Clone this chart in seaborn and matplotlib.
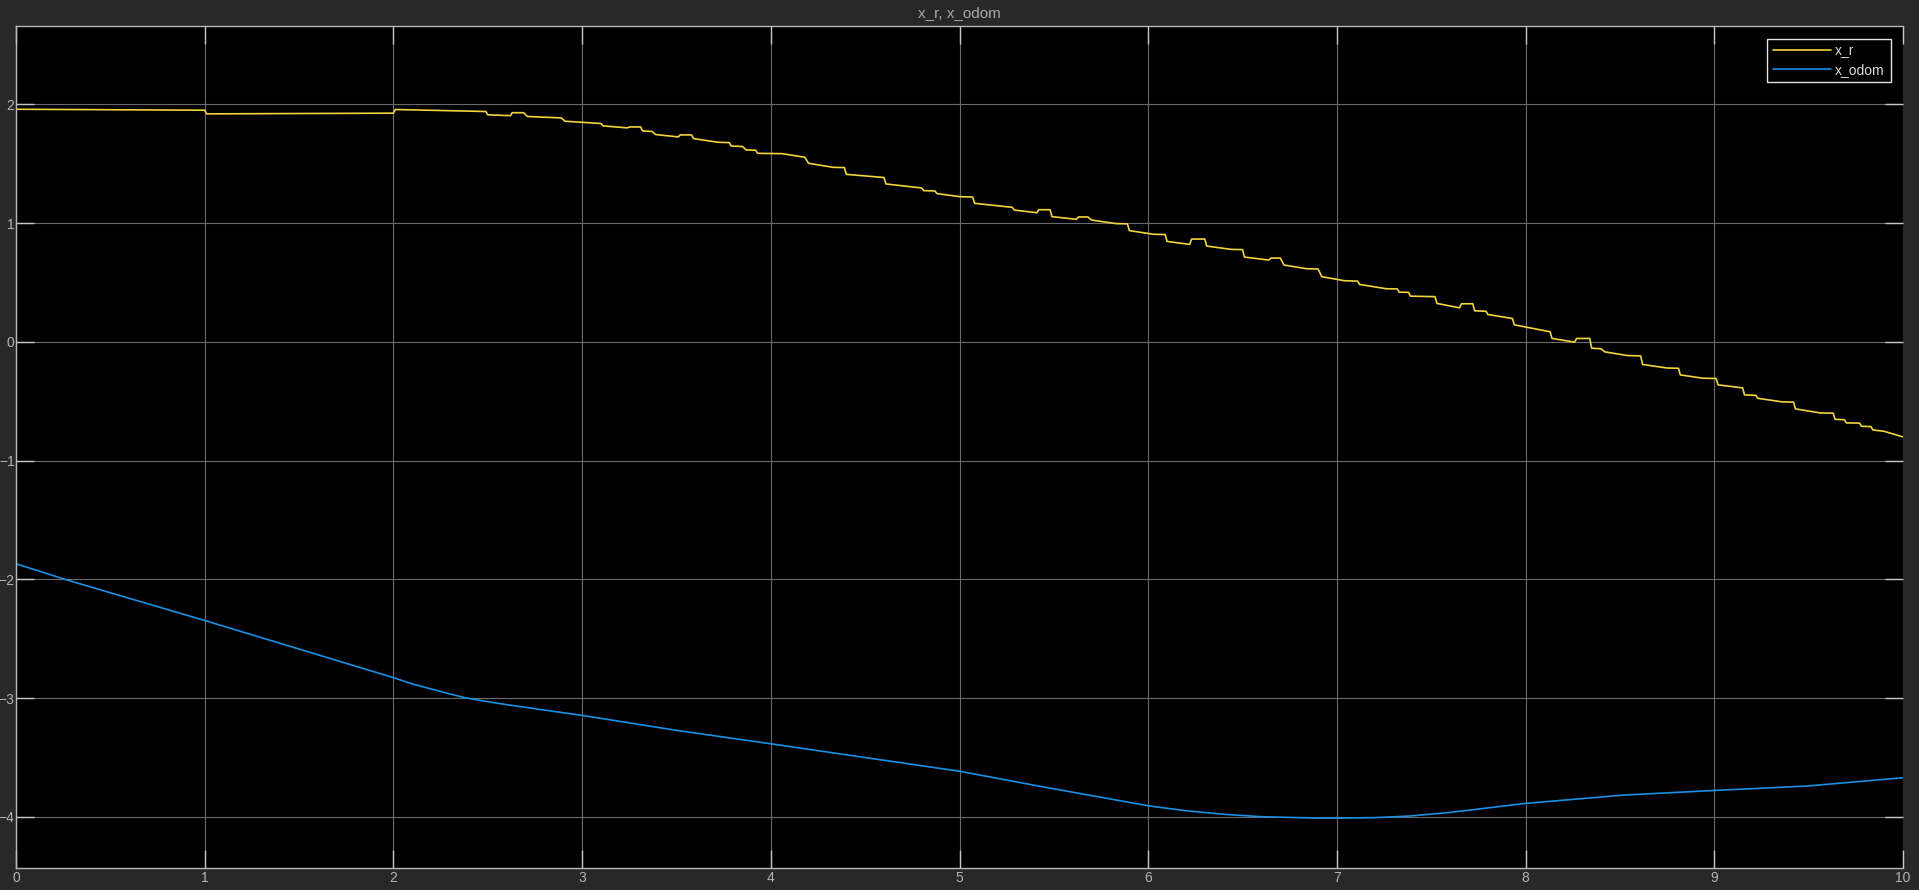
import matplotlib
matplotlib.use("Agg")

import pandas as pd
import matplotlib.pyplot as plt
import seaborn as sns

# x_r (staircase, each step has a start and end point)
t_r = [0.00, 1.00, 1.01, 2.00, 2.01, 2.36, 2.49, 2.50, 2.62, 2.63, 2.69, 2.71,
       2.89, 2.91, 3.10, 3.11, 3.24, 3.25, 3.31, 3.32, 3.37, 3.39, 3.51, 3.52,
       3.58, 3.59, 3.72, 3.78, 3.79, 3.85, 3.87, 3.92, 3.93, 4.06, 4.18, 4.20,
       4.33, 4.39, 4.40, 4.60, 4.61, 4.80, 4.81, 4.87, 4.88, 5.00, 5.07, 5.08,
       5.28, 5.29, 5.41, 5.42, 5.48, 5.49, 5.62, 5.63, 5.68, 5.70, 5.83, 5.89,
       5.90, 6.03, 6.09, 6.10, 6.22, 6.23, 6.30, 6.31, 6.44, 6.50, 6.51, 6.64,
       6.65, 6.70, 6.72, 6.84, 6.90, 6.92, 7.04, 7.11, 7.12, 7.26, 7.32, 7.33,
       7.38, 7.39, 7.52, 7.53, 7.65, 7.66, 7.72, 7.73, 7.79, 7.80, 7.93, 7.94,
       8.13, 8.14, 8.26, 8.27, 8.34, 8.35, 8.40, 8.42, 8.54, 8.61, 8.62, 8.75,
       8.81, 8.82, 8.94, 9.01, 9.02, 9.15, 9.16, 9.22, 9.23, 9.36, 9.42, 9.43,
       9.56, 9.63, 9.64, 9.69, 9.70, 9.77, 9.78, 9.83, 9.84, 9.90, 10.00]
x_r = [1.959, 1.951, 1.920, 1.926, 1.957, 1.945, 1.940, 1.912, 1.905, 1.930, 1.930, 1.898,
       1.886, 1.858, 1.839, 1.819, 1.802, 1.810, 1.810, 1.777, 1.772, 1.746, 1.726, 1.743,
       1.743, 1.712, 1.681, 1.678, 1.650, 1.645, 1.616, 1.614, 1.588, 1.585, 1.555, 1.504,
       1.470, 1.468, 1.411, 1.384, 1.330, 1.296, 1.274, 1.271, 1.249, 1.223, 1.220, 1.167,
       1.133, 1.110, 1.088, 1.113, 1.113, 1.055, 1.032, 1.052, 1.052, 1.026, 0.996, 0.994,
       0.937, 0.906, 0.904, 0.846, 0.821, 0.866, 0.866, 0.807, 0.779, 0.777, 0.714, 0.689,
       0.706, 0.706, 0.647, 0.616, 0.614, 0.549, 0.515, 0.512, 0.484, 0.448, 0.446, 0.419,
       0.417, 0.385, 0.381, 0.324, 0.287, 0.321, 0.321, 0.262, 0.258, 0.231, 0.197, 0.144,
       0.085, 0.029, -0.002, 0.029, 0.029, -0.053, -0.058, -0.084, -0.115, -0.118, -0.190, -0.220,
       -0.222, -0.278, -0.306, -0.308, -0.362, -0.387, -0.446, -0.450, -0.475, -0.505, -0.507, -0.564,
       -0.598, -0.600, -0.652, -0.655, -0.682, -0.684, -0.711, -0.713, -0.741, -0.753, -0.800]

# x_odom: smooth trace
t_odom = [0.0, 0.26, 1.0, 2.0, 2.1, 2.22, 2.3, 2.38, 2.5, 2.61, 3.0, 3.5, 4.0, 4.47,
          5.0, 5.44, 6.0, 6.2, 6.41, 6.6, 6.9, 7.0, 7.2, 7.38, 7.6, 8.0, 8.52, 9.0,
          9.49, 10.0]
x_odom = [-1.868, -2.0, -2.346, -2.827, -2.880, -2.931, -2.965, -2.996, -3.030, -3.057,
          -3.145, -3.271, -3.384, -3.493, -3.615, -3.746, -3.906, -3.948, -3.979, -3.998,
          -4.010, -4.010, -4.006, -3.993, -3.962, -3.886, -3.816, -3.777, -3.740, -3.670]

df_r = pd.DataFrame({"t": t_r, "value": x_r})
df_odom = pd.DataFrame({"t": t_odom, "value": x_odom})

sns.set_style("dark")
plt.rcParams["font.family"] = ["Liberation Sans", "DejaVu Sans"]

BG = "#282828"
fig = plt.figure(figsize=(19.19, 8.90), dpi=100, facecolor=BG)
ax = fig.add_axes([16 / 1919, 22 / 890, 1887 / 1919, 842 / 890])
ax.set_facecolor("black")

sns.lineplot(data=df_r, x="t", y="value", ax=ax, color="#f2d43c",
             linewidth=1.2, label="x_r", estimator=None, sort=False)
sns.lineplot(data=df_odom, x="t", y="value", ax=ax, color="#1a8fe6",
             linewidth=1.2, label="x_odom", estimator=None, sort=False)

ax.set_xlim(0, 10)
ax.set_ylim(-4.43, 2.66)
ax.set_xticks(range(0, 11))
ax.set_yticks([-4, -3, -2, -1, 0, 1, 2])
ax.set_xlabel("")
ax.set_ylabel("")

ax.grid(True, color="#6a6a6a", linewidth=0.8, linestyle="-")
ax.tick_params(direction="in", length=13, width=1, color="#c8c8c8",
               labelcolor="#b4b4b4", labelsize=10, pad=2,
               top=True, right=True, bottom=True, left=True)
ax.tick_params(axis="y", pad=1)

for side in ["left", "bottom", "top"]:
    ax.spines[side].set_visible(True)
    ax.spines[side].set_color("#b8b8b8")
    ax.spines[side].set_linewidth(1)
ax.spines["right"].set_visible(False)

fig.text(0.5, 1 - 13 / 890, "x_r, x_odom", ha="center", va="center",
         color="#a8a8a8", fontsize=11)

leg = ax.legend(loc="upper right", frameon=True, fontsize=10, fancybox=False,
                borderaxespad=0.9, handlelength=4.2, labelspacing=0.35,
                borderpad=0.4, handletextpad=0.3)
leg.get_frame().set_facecolor("black")
leg.get_frame().set_edgecolor("#e0e0e0")
leg.get_frame().set_linewidth(1)
leg.get_frame().set_alpha(1)
for txt in leg.get_texts():
    txt.set_color("#d8d8d8")

plt.savefig("out.png", dpi=100, facecolor=BG)
plt.close()
